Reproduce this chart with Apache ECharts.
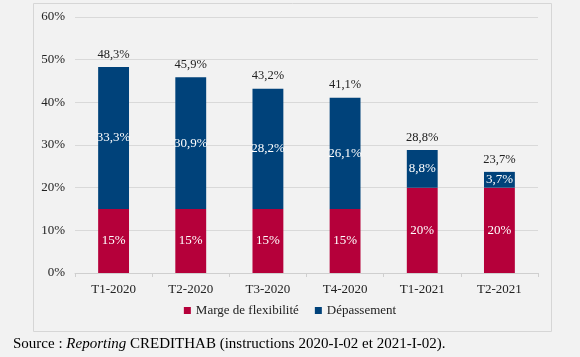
<!DOCTYPE html>
<html><head><meta charset="utf-8">
<script src="https://cdn.jsdelivr.net/npm/echarts@6/dist/echarts.min.js"></script>
<style>html,body{margin:0;padding:0;background:#f2f2f2;}#c{width:580px;height:357px;}</style>
</head><body><div id="c"></div>
<script>
var categories = ['T1-2020','T2-2020','T3-2020','T4-2020','T1-2021','T2-2021'];
var marge = [15,15,15,15,20,20];
var depassement = [33.3,30.9,28.2,26.1,8.8,3.7];
var totals = [48.3,45.9,43.2,41.1,28.8,23.7];
var yTicks = [0,10,20,30,40,50,60];
var serifFont = 'Liberation Serif';
function fmt(v){ return String(v).replace('.', ',') + '%'; }
var chart = echarts.init(document.getElementById('c'));
chart.setOption({
  backgroundColor: '#f2f2f2',
  animation: false,
  textStyle: {fontFamily: serifFont},
  graphic: [
    {type:'rect', shape:{x:33.5,y:3.5,width:518,height:328}, style:{fill:'none', stroke:'#d6d6d6', lineWidth:1}, z:-1},
    {type:'text', left:13, top:337, style:{
      text:'Source : {i|Reporting} CREDITHAB (instructions 2020-I-02 et 2021-I-02).',
      fontFamily: serifFont, fontSize:15, fill:'#000',
      rich:{i:{fontStyle:'italic', fontFamily: serifFont, fontSize:15, fill:'#000'}}
    }}
  ],
  grid: {left:75, right:42, top:17, bottom:84},
  legend: {
    data: ['Marge de flexibilité','Dépassement'],
    bottom: 35, left: 'center',
    itemWidth: 7, itemHeight: 7, itemGap: 16,
    icon: 'rect',
    textStyle: {fontFamily: serifFont, fontSize: 13, color:'#222'}
  },
  xAxis: {
    type:'category', data: categories,
    axisLine:{lineStyle:{color:'#cfcfcf'}},
    axisTick:{show:true, length:4, lineStyle:{color:'#cfcfcf'}},
    axisLabel:{fontFamily: serifFont, fontSize:13, color:'#222', margin:10}
  },
  yAxis: {
    type:'value', min:0, max:60, interval:10,
    axisLine:{show:false}, axisTick:{show:false},
    splitLine:{lineStyle:{color:'#d9d9d9'}},
    axisLabel:{fontFamily: serifFont, fontSize:13, color:'#222', margin:10,
      formatter:function(v){ return yTicks.indexOf(v) >= 0 ? v + '%' : ''; }}
  },
  series: [
    {name:'Marge de flexibilité', type:'bar', stack:'s', data: marge, barWidth:'40%',
      itemStyle:{color:'#b5003a'},
      label:{show:true, position:'inside', color:'#fff', fontFamily: serifFont, fontSize:13,
        formatter:function(p){ return fmt(p.value); }}},
    {name:'Dépassement', type:'bar', stack:'s', data: depassement, barWidth:'40%',
      itemStyle:{color:'#00427a'},
      label:{show:true, position:'inside', color:'#fff', fontFamily: serifFont, fontSize:13,
        formatter:function(p){ return fmt(p.value); }}},
    {name:'Total', type:'bar', stack:'s', data: totals.map(function(){return 0;}), barWidth:'40%',
      itemStyle:{color:'transparent'},
      label:{show:true, position:'top', distance:6, color:'#222', fontFamily: serifFont, fontSize:12.5,
        formatter:function(p){ return fmt(totals[p.dataIndex]); }}}
  ]
});
</script></body></html>
